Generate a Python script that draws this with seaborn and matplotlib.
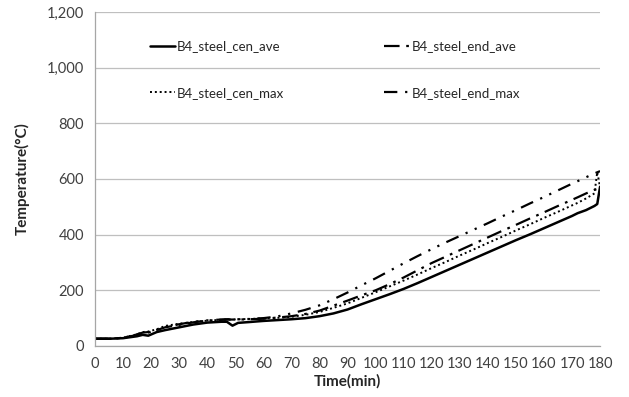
import pandas as pd
import seaborn as sns
import matplotlib.pyplot as plt
from matplotlib.ticker import FuncFormatter, MultipleLocator

# time points (min)
time = [0, 5, 10, 15, 17, 19, 22, 25, 30, 35, 40, 45, 47, 49, 51, 55, 60, 65, 70, 75,
        80, 85, 90, 95, 100, 105, 110, 115, 120, 125, 130, 135, 140, 145, 150, 155,
        160, 165, 170, 172, 175, 178, 179, 180]

cen_ave = [26, 26, 28, 35, 40, 37, 50, 57, 67, 77, 84, 87, 87, 73, 83, 86, 90, 93, 96, 100,
           107, 117, 131, 150, 168, 186, 205, 226, 248, 270, 292, 314, 336, 358, 380, 401,
           423, 445, 467, 477, 488, 503, 510, 572]
cen_max = [26, 26, 30, 42, 50, 52, 60, 72, 80, 86, 91, 94, 95, 95, 96, 97, 99, 101, 105, 112,
           122, 137, 153, 173, 193, 214, 235, 257, 280, 302, 325, 347, 370, 392, 415, 437,
           460, 482, 505, 514, 530, 548, 625, 570]
end_ave = [26, 26, 29, 40, 46, 48, 57, 67, 76, 85, 91, 94, 95, 95, 95, 96, 98, 102, 107, 115,
           127, 145, 163, 182, 200, 222, 246, 272, 298, 321, 344, 367, 390, 413, 435, 458,
           480, 503, 525, 534, 548, 561, 564, 568]
end_max = [26, 26, 29, 42, 48, 50, 58, 68, 78, 87, 92, 95, 96, 96, 96, 97, 100, 106, 117, 130,
           146, 168, 192, 218, 243, 270, 297, 323, 348, 372, 395, 418, 441, 465, 488, 512,
           535, 559, 583, 592, 606, 620, 624, 628]

series = [
    ("B4_steel_cen_ave", cen_ave, dict(linestyle="-", linewidth=1.8)),
    ("B4_steel_cen_max", cen_max, dict(linestyle=(0, (1, 1.5)), linewidth=1.4)),
    ("B4_steel_end_ave", end_ave, dict(linestyle=(0, (7, 3, 1.2, 3)), linewidth=1.6)),
    ("B4_steel_end_max", end_max, dict(linestyle=(0, (6, 3.5, 1, 3.5, 1, 3.5)), linewidth=1.6)),
]

sns.set_style("white")
plt.rcParams["font.family"] = ["Lato", "DejaVu Sans"]

fig = plt.figure(figsize=(6.29, 3.97), dpi=100)
ax = fig.add_axes([0.151, 0.1285, 0.803, 0.8415])

for name, vals, kw in series:
    df = pd.DataFrame({"Time": time, "Temp": vals})
    sns.lineplot(data=df, x="Time", y="Temp", ax=ax, color="black", label=name, **kw)

ax.set_xlim(0, 180)
ax.set_ylim(0, 1200)
ax.xaxis.set_major_locator(MultipleLocator(10))
ax.yaxis.set_major_locator(MultipleLocator(200))
ax.yaxis.set_major_formatter(FuncFormatter(lambda v, p: f"{v:,.0f}"))
ax.tick_params(axis="both", labelsize=10.5, colors="#404040", length=5, width=0.8,
               direction="out", pad=3)
ax.tick_params(axis="both", color="#a6a6a6")
ax.grid(axis="y", color="#bfbfbf", linewidth=0.9)
ax.yaxis.get_gridlines()[-1].set_visible(False)
for s in ["top", "right"]:
    ax.spines[s].set_visible(False)
for s in ["left", "bottom"]:
    ax.spines[s].set_color("#a6a6a6")
    ax.spines[s].set_linewidth(0.9)

ax.set_xlabel("Time(min)", fontsize=11, fontweight="bold", labelpad=2)
ax.set_ylabel("Temperature(°C)", fontsize=11, fontweight="bold", labelpad=12)

ax.legend(ncol=2, frameon=False, fontsize=9.5, loc="upper left",
          bbox_to_anchor=(0.085, 0.95), handlelength=1.9, handletextpad=0.15,
          columnspacing=7.6, labelspacing=2.6)

fig.savefig("out.png", dpi=100)
